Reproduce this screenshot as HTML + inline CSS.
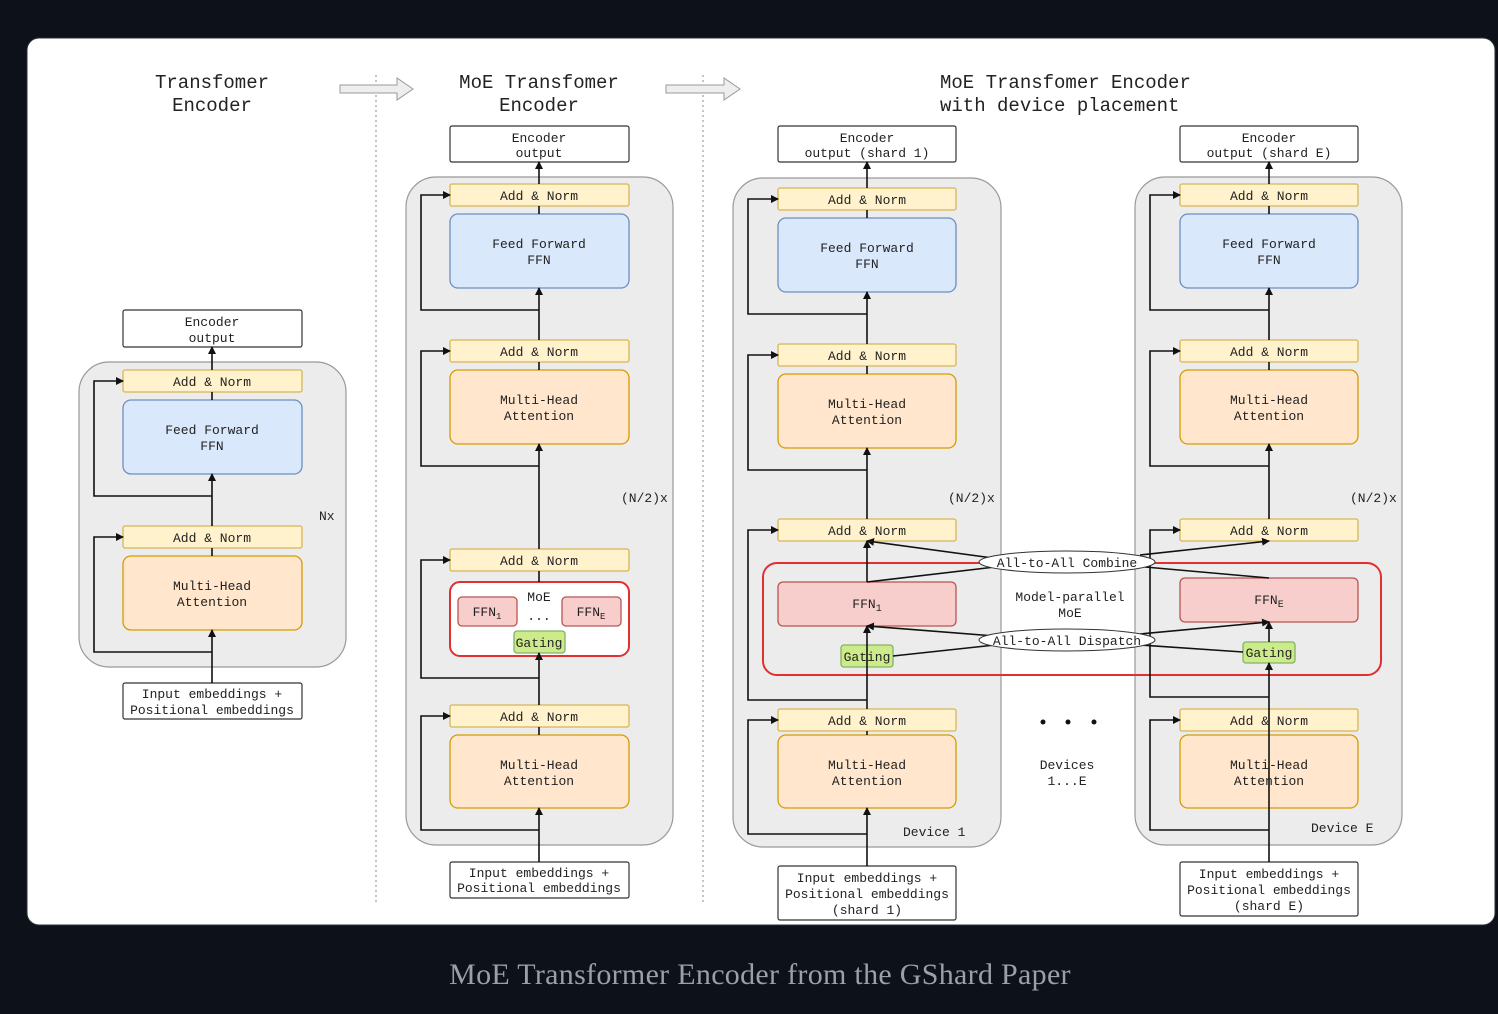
<!DOCTYPE html>
<html><head><meta charset="utf-8"><style>
html,body{margin:0;padding:0;background:#0d111a;}
svg{display:block}
text{font-family:"Liberation Mono","DejaVu Sans Mono",monospace;font-size:13px;fill:#222;}
.t{font-size:19px;}
.an{fill:#fff2cc;stroke:#d6b656;stroke-width:1.3}
.ff{fill:#dae8fc;stroke:#6c8ebf;stroke-width:1.3}
.mh{fill:#ffe6cc;stroke:#d79b00;stroke-width:1.3}
.fn{fill:#f8cecc;stroke:#b85450;stroke-width:1.3}
.gt{fill:#cdeb8b;stroke:#82b366;stroke-width:1.3}
.wb{fill:#fff;stroke:#333;stroke-width:1.2}
.ct{fill:#ececec;stroke:#999;stroke-width:1.2}
.l{stroke:#111;stroke-width:1.6;fill:none}
.la{stroke:#111;stroke-width:1.6;fill:none;marker-end:url(#ah)}
</style></head><body>
<svg width="1498" height="1014" viewBox="0 0 1498 1014">
<defs><marker id="ah" markerWidth="8" markerHeight="8" refX="7" refY="4" orient="auto" markerUnits="userSpaceOnUse"><path d="M0,0 L8,4 L0,8 Z" fill="#111"/></marker></defs>
<rect x="27" y="38" width="1468" height="887" rx="12" fill="#fff" stroke="#2a303a"/>
<g text-anchor="middle">
<text class="t" x="212" y="88">Transfomer</text><text class="t" x="212" y="111">Encoder</text>
<text class="t" x="539" y="88">MoE Transfomer</text><text class="t" x="539" y="111">Encoder</text>
</g>
<text class="t" x="940" y="88">MoE Transfomer Encoder</text><text class="t" x="940" y="111">with device placement</text>
<line x1="376" y1="75" x2="376" y2="905" stroke="#888" stroke-dasharray="2,3"/>
<line x1="703" y1="75" x2="703" y2="905" stroke="#888" stroke-dasharray="2,3"/>
<path d="M340,85 H397 V78 L413,89 L397,100 V93 H340 Z" fill="#eee" stroke="#999"/>
<path d="M666,85 H724 V78 L740,89 L724,100 V93 H666 Z" fill="#eee" stroke="#999"/>

<!-- col1 -->
<rect class="ct" x="79" y="362" width="267" height="305" rx="30"/>
<rect class="wb" x="123" y="310" width="179" height="37" rx="2"/>
<rect class="an" x="123" y="370" width="179" height="22" rx="2"/>
<rect class="ff" x="123" y="400" width="179" height="74" rx="8"/>
<rect class="an" x="123" y="526" width="179" height="22" rx="2"/>
<rect class="mh" x="123" y="556" width="179" height="74" rx="8"/>
<rect class="wb" x="123" y="683" width="179" height="36" rx="2"/>
<path class="la" d="M212,683 V630"/><path class="l" d="M212,556 V548"/><path class="la" d="M212,526 V474"/><path class="l" d="M212,400 V392"/><path class="la" d="M212,370 V347"/>
<path class="la" d="M212,652 H94 V537 H123"/><path class="la" d="M212,496 H94 V381 H123"/>
<g text-anchor="middle">
<text x="212" y="326">Encoder</text><text x="212" y="342">output</text>
<text x="212" y="386">Add &amp; Norm</text>
<text x="212" y="434">Feed Forward</text><text x="212" y="450">FFN</text>
<text x="212" y="542">Add &amp; Norm</text>
<text x="212" y="590">Multi-Head</text><text x="212" y="606">Attention</text>
<text x="212" y="698">Input embeddings +</text><text x="212" y="714">Positional embeddings</text>
</g>
<text x="319" y="520">Nx</text>

<!-- col2 -->
<rect class="ct" x="406" y="177" width="267" height="668" rx="30"/>
<rect class="wb" x="450" y="126" width="179" height="36" rx="2"/>
<rect class="an" x="450" y="184" width="179" height="22" rx="2"/>
<rect class="ff" x="450" y="214" width="179" height="74" rx="8"/>
<rect class="an" x="450" y="340" width="179" height="22" rx="2"/>
<rect class="mh" x="450" y="370" width="179" height="74" rx="8"/>
<rect class="an" x="450" y="549" width="179" height="22" rx="2"/>
<rect x="450" y="582" width="179" height="74" rx="10" fill="#fff" stroke="#e03030" stroke-width="2"/>
<rect class="fn" x="458" y="597" width="59" height="29" rx="4"/>
<rect class="fn" x="562" y="597" width="59" height="29" rx="4"/>
<rect class="gt" x="514" y="631" width="51" height="22" rx="3"/>
<rect class="an" x="450" y="705" width="179" height="22" rx="2"/>
<rect class="mh" x="450" y="735" width="179" height="73" rx="8"/>
<rect class="wb" x="450" y="862" width="179" height="36" rx="2"/>
<path class="la" d="M539,862 V808"/><path class="l" d="M539,735 V727"/><path class="la" d="M539,705 V653"/><path class="l" d="M539,582 V571"/><path class="la" d="M539,549 V444"/><path class="l" d="M539,370 V362"/><path class="la" d="M539,340 V288"/><path class="l" d="M539,214 V206"/><path class="la" d="M539,184 V162"/>
<path class="la" d="M539,830 H421 V716 H450"/><path class="la" d="M539,678 H421 V560 H450"/><path class="la" d="M539,466 H421 V351 H450"/><path class="la" d="M539,310 H421 V195 H450"/>
<g text-anchor="middle">
<text x="539" y="142">Encoder</text><text x="539" y="157">output</text>
<text x="539" y="200">Add &amp; Norm</text>
<text x="539" y="248">Feed Forward</text><text x="539" y="264">FFN</text>
<text x="539" y="356">Add &amp; Norm</text>
<text x="539" y="404">Multi-Head</text><text x="539" y="420">Attention</text>
<text x="539" y="565">Add &amp; Norm</text>
<text x="539" y="601">MoE</text><text x="539" y="620">...</text>
<text x="487" y="616">FFN<tspan font-size="9" dy="3">1</tspan></text>
<text x="591" y="616">FFN<tspan font-size="9" dy="3">E</tspan></text>
<text x="539" y="647">Gating</text>
<text x="539" y="721">Add &amp; Norm</text>
<text x="539" y="769">Multi-Head</text><text x="539" y="785">Attention</text>
<text x="539" y="877">Input embeddings +</text><text x="539" y="892">Positional embeddings</text>
</g>
<text x="621" y="502">(N/2)x</text>

<!-- col3 -->
<rect class="ct" x="733" y="178" width="268" height="669" rx="30"/>
<!-- col4 -->
<rect class="ct" x="1135" y="177" width="267" height="668" rx="30"/>

<rect x="763" y="563" width="618" height="112" rx="14" fill="none" stroke="#e03030" stroke-width="2"/>

<rect class="wb" x="778" y="126" width="178" height="36" rx="2"/>
<rect class="an" x="778" y="188" width="178" height="22" rx="2"/>
<rect class="ff" x="778" y="218" width="178" height="74" rx="8"/>
<rect class="an" x="778" y="344" width="178" height="22" rx="2"/>
<rect class="mh" x="778" y="374" width="178" height="74" rx="8"/>
<rect class="an" x="778" y="519" width="178" height="22" rx="2"/>
<rect class="fn" x="778" y="582" width="178" height="44" rx="5"/>
<rect class="gt" x="841" y="645" width="52" height="22" rx="3"/>
<rect class="an" x="778" y="709" width="178" height="22" rx="2"/>
<rect class="mh" x="778" y="735" width="178" height="73" rx="8"/>
<rect class="wb" x="778" y="866" width="178" height="54" rx="2"/>
<path class="la" d="M867,866 V808"/><path class="l" d="M867,735 V731"/><path class="la" d="M867,709 V626"/><path class="la" d="M867,582 V541"/><path class="la" d="M867,519 V448"/><path class="l" d="M867,374 V366"/><path class="la" d="M867,344 V292"/><path class="l" d="M867,218 V210"/><path class="la" d="M867,188 V162"/>
<path class="la" d="M867,834 H748 V720 H778"/><path class="la" d="M867,700 H748 V530 H778"/><path class="la" d="M867,470 H748 V355 H778"/><path class="la" d="M867,314 H748 V199 H778"/>

<rect class="wb" x="1180" y="126" width="178" height="36" rx="2"/>
<rect class="an" x="1180" y="184" width="178" height="22" rx="2"/>
<rect class="ff" x="1180" y="214" width="178" height="74" rx="8"/>
<rect class="an" x="1180" y="340" width="178" height="22" rx="2"/>
<rect class="mh" x="1180" y="370" width="178" height="74" rx="8"/>
<rect class="an" x="1180" y="519" width="178" height="22" rx="2"/>
<rect class="fn" x="1180" y="578" width="178" height="44" rx="5"/>
<rect class="gt" x="1243" y="642" width="52" height="21" rx="3"/>
<rect class="an" x="1180" y="709" width="178" height="22" rx="2"/>
<rect class="mh" x="1180" y="735" width="178" height="73" rx="8"/>
<rect class="wb" x="1180" y="862" width="178" height="54" rx="2"/>
<path class="la" d="M1269,862 V663"/><path class="la" d="M1269,642 V622"/><path class="la" d="M1269,519 V444"/><path class="l" d="M1269,370 V362"/><path class="la" d="M1269,340 V288"/><path class="l" d="M1269,214 V206"/><path class="la" d="M1269,184 V162"/>
<path class="la" d="M1269,830 H1150 V720 H1180"/><path class="la" d="M1269,697 H1150 V530 H1180"/><path class="la" d="M1269,466 H1150 V351 H1180"/><path class="la" d="M1269,310 H1150 V195 H1180"/>

<!-- all-to-all -->
<path class="la" d="M1000,559 L867,541"/><path class="l" d="M867,582 L995,567"/>
<path class="la" d="M1140,555 L1269,541"/><path class="l" d="M1145,567 L1269,578"/>
<path class="la" d="M995,636 L867,626"/><path class="l" d="M893,656 L995,645"/>
<path class="la" d="M1140,634 L1269,622"/><path class="l" d="M1140,645 L1243,652"/>
<ellipse cx="1067" cy="562" rx="88" ry="11" fill="#fff" stroke="#333"/>
<ellipse cx="1067" cy="640" rx="88" ry="11" fill="#fff" stroke="#333"/>
<g text-anchor="middle">
<text x="1067" y="567">All-to-All Combine</text>
<text x="1067" y="645">All-to-All Dispatch</text>
<text x="1070" y="601">Model-parallel</text><text x="1070" y="617">MoE</text>
<text x="1067" y="769">Devices</text><text x="1067" y="785">1...E</text>
<text x="867" y="142">Encoder</text><text x="867" y="157">output (shard 1)</text>
<text x="867" y="204">Add &amp; Norm</text>
<text x="867" y="252">Feed Forward</text><text x="867" y="268">FFN</text>
<text x="867" y="360">Add &amp; Norm</text>
<text x="867" y="408">Multi-Head</text><text x="867" y="424">Attention</text>
<text x="867" y="535">Add &amp; Norm</text>
<text x="867" y="608">FFN<tspan font-size="10" dy="3">1</tspan></text>
<text x="867" y="661">Gating</text>
<text x="867" y="725">Add &amp; Norm</text>
<text x="867" y="769">Multi-Head</text><text x="867" y="785">Attention</text>
<text x="867" y="882">Input embeddings +</text><text x="867" y="898">Positional embeddings</text><text x="867" y="914">(shard 1)</text>
<text x="1269" y="142">Encoder</text><text x="1269" y="157">output (shard E)</text>
<text x="1269" y="200">Add &amp; Norm</text>
<text x="1269" y="248">Feed Forward</text><text x="1269" y="264">FFN</text>
<text x="1269" y="356">Add &amp; Norm</text>
<text x="1269" y="404">Multi-Head</text><text x="1269" y="420">Attention</text>
<text x="1269" y="535">Add &amp; Norm</text>
<text x="1269" y="604">FFN<tspan font-size="10" dy="3">E</tspan></text>
<text x="1269" y="657">Gating</text>
<text x="1269" y="725">Add &amp; Norm</text>
<text x="1269" y="769">Multi-Head</text><text x="1269" y="785">Attention</text>
<text x="1269" y="878">Input embeddings +</text><text x="1269" y="894">Positional embeddings</text><text x="1269" y="910">(shard E)</text>
</g>
<text x="948" y="502">(N/2)x</text>
<text x="1350" y="502">(N/2)x</text>
<text x="903" y="836">Device 1</text>
<text x="1311" y="832">Device E</text>
<circle cx="1043" cy="722" r="2.5" fill="#111"/><circle cx="1068" cy="722" r="2.5" fill="#111"/><circle cx="1094" cy="722" r="2.5" fill="#111"/>

<text x="760" y="984" text-anchor="middle" style="font-family:'Liberation Serif',serif;font-size:30px;letter-spacing:0.3px;fill:#9aa0a6">MoE Transformer Encoder from the GShard Paper</text>
</svg>
</body></html>
